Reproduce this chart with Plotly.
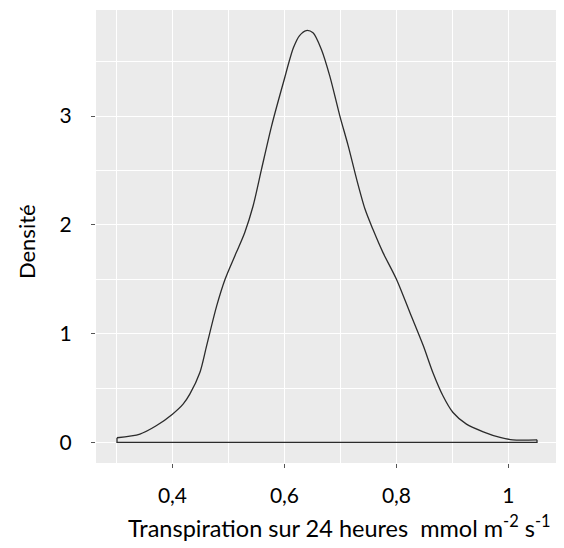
import plotly.graph_objects as go

# density curve
transpiration = [0.301, 0.342, 0.371, 0.400, 0.419, 0.431, 0.449, 0.461, 0.479, 0.494,
                 0.514, 0.529, 0.544, 0.559, 0.577, 0.598, 0.616, 0.627, 0.639, 0.651,
                 0.666, 0.681, 0.699, 0.714, 0.729, 0.744, 0.758, 0.776, 0.800, 0.824,
                 0.848, 0.865, 0.883, 0.901, 0.925, 0.955, 0.985, 1.008, 1.051]
densite = [0.043, 0.077, 0.153, 0.260, 0.352, 0.444, 0.643, 0.888, 1.255, 1.500,
           1.745, 1.928, 2.173, 2.510, 2.908, 3.306, 3.627, 3.740, 3.786, 3.765,
           3.612, 3.367, 3.000, 2.724, 2.418, 2.143, 1.959, 1.745, 1.500, 1.194,
           0.888, 0.643, 0.429, 0.275, 0.168, 0.098, 0.046, 0.024, 0.024]

x_ticks = [0.4, 0.6, 0.8, 1.0]
x_labels = ["0,4", "0,6", "0,8", "1"]
y_ticks = [0, 1, 2, 3]

font = "Lato, Carlito, Calibri, sans-serif"
line = dict(color="#2b2b2b", width=1.3)

fig = go.Figure()
# smooth top of the density
fig.add_trace(go.Scatter(
    x=transpiration, y=densite, mode="lines",
    line=dict(shape="spline", smoothing=0.8, **line),
    hoverinfo="skip", showlegend=False
))
# closing edges down to zero, like geom_density's outline
fig.add_trace(go.Scatter(
    x=[transpiration[-1], transpiration[-1], transpiration[0], transpiration[0]],
    y=[densite[-1], 0, 0, densite[0]], mode="lines",
    line=line, hoverinfo="skip", showlegend=False
))

# page body has an 8px margin, so the figure is a bit smaller than the window
fig.update_layout(
    width=556, height=540,
    margin=dict(l=88, r=6, t=2, b=85),
    plot_bgcolor="#EBEBEB",
    paper_bgcolor="white",
    font=dict(family=font, color="black"),
    annotations=[
        dict(text="Transpiration sur 24 heures  mmol m<sup>-2</sup> s<sup>-1</sup>",
             xref="paper", yref="paper", x=0.526, y=-0.141,
             xanchor="center", yanchor="middle", showarrow=False,
             font=dict(size=23.5, color="black")),
        dict(text="Densité", textangle=-90,
             xref="paper", yref="paper", x=-0.149, y=0.488,
             xanchor="center", yanchor="middle", showarrow=False,
             font=dict(size=22, color="black")),
    ],
)

fig.update_xaxes(
    range=[0.2635, 1.0885], automargin=False,
    tickvals=x_ticks, ticktext=x_labels,
    tickfont=dict(size=21, color="black"),
    ticks="outside", ticklen=4, tickcolor="#555555", tickwidth=1,
    ticklabelstandoff=10,
    showgrid=True, gridcolor="white", gridwidth=1.2,
    minor=dict(dtick=0.2, tick0=0.3, showgrid=True, gridcolor="white", gridwidth=0.6),
    zeroline=False, showline=False,
)

fig.update_yaxes(
    range=[-0.189, 3.975], automargin=False,
    tickvals=y_ticks,
    tickfont=dict(size=21, color="black"),
    ticks="outside", ticklen=4, tickcolor="#555555", tickwidth=1,
    ticklabelstandoff=15,
    showgrid=True, gridcolor="white", gridwidth=1.2,
    minor=dict(dtick=1, tick0=0.5, showgrid=True, gridcolor="white", gridwidth=0.6),
    zeroline=False, showline=False,
)

fig.write_html("out.html")
